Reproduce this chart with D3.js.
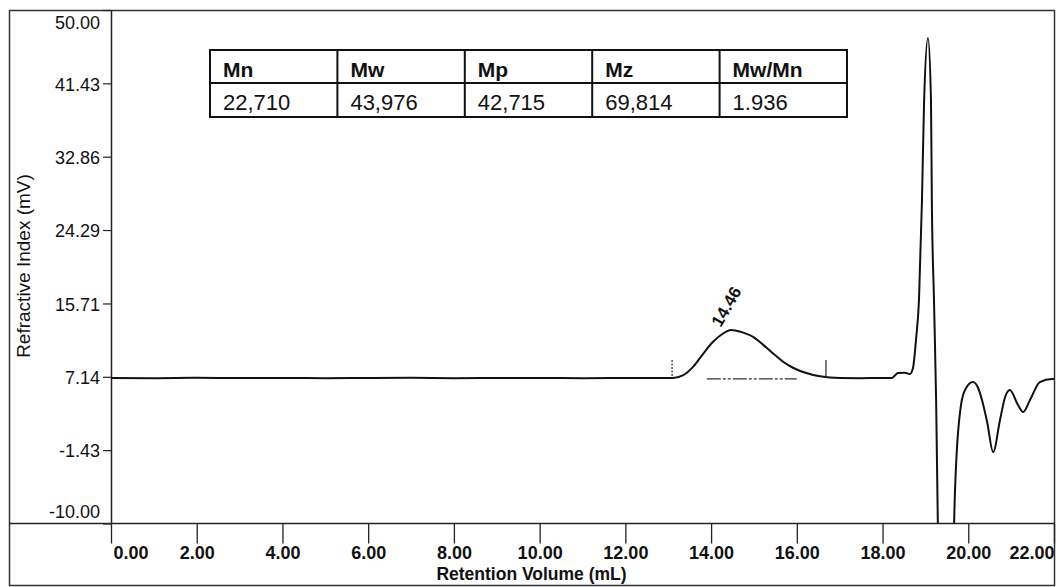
<!DOCTYPE html>
<html>
<head>
<meta charset="utf-8">
<script src="https://cdn.jsdelivr.net/npm/d3@7"></script>
<style>
  body { margin: 0; background: #fff; }
  svg { display: block; }
  text { font-family: "Liberation Sans", Arial, sans-serif; fill: #111; }
</style>
</head>
<body>
<svg id="chart" width="1059" height="587"></svg>
<script>
// Refractive-index trace of the GPC run: retention volume (mL) and detector signal (mV)
const retentionMl = [
  0, 1, 2, 3, 4, 5, 6, 7, 8, 9, 10, 11, 12, 12.6,
  13.11, 13.34, 13.58, 13.81, 14.04, 14.28, 14.46, 14.75, 14.98, 15.21, 15.44, 15.68, 15.91, 16.24, 16.54, 17.01,
  17.5, 18.0, 18.22, 18.36, 18.52, 18.64, 18.71, 18.78, 18.85, 18.92, 18.97, 19.06, 19.13, 19.15, 19.20, 19.25, 19.29, 19.33, 19.62, 19.67, 19.71,
  19.85, 19.95, 20.11, 20.23, 20.32, 20.44, 20.58, 20.74, 20.86, 20.97, 21.16, 21.28, 21.44, 21.67, 21.95, 22.00
];
const riSignal = [
  7.00, 6.98, 7.02, 6.99, 7.01, 6.97, 7.00, 7.02, 6.98, 7.00, 7.01, 6.98, 7.00, 7.01,
  7.00, 7.30, 8.30, 9.80, 11.20, 12.20, 12.61, 12.30, 11.80, 10.90, 9.90, 8.90, 8.20, 7.55, 7.20, 7.00,
  6.98, 7.00, 7.00, 7.59, 7.62, 7.47, 8.17, 11.44, 16.11, 27.80, 39.48, 46.73, 39.48, 27.80, 16.11, 4.43, -10.00, -30.00, -30.00, -10.00, -3.75,
  4.43, 5.83, 6.53, 5.83, 4.43, 1.86, -1.65, 2.09, 4.78, 5.59, 3.85, 3.03, 4.43, 6.53, 6.88, 6.88
];

// Polymer peak: apex, integration limits and drawn baseline
const peakApex = [14.46, 12.61];
const peakLimits = [13.09, 16.68];
const limitMarkTop = 9.1;
const peakBaseline = [13.90, 16.00];
const baselineLevel = 6.9;

// Axis ticks
const xTicks = [0, 2, 4, 6, 8, 10, 12, 14, 16, 18, 20, 22];
const yTicks = [-10.00, -1.43, 7.14, 15.71, 24.29, 32.86, 41.43, 50.00];

// Molecular weight averages
const statNames = ["Mn", "Mw", "Mp", "Mz", "Mw/Mn"];
const statValues = ["22,710", "43,976", "42,715", "69,814", "1.936"];

const svg = d3.select("#chart");
const frame = { left: 9, top: 10, right: 1054, bottom: 585 };
const plot = { left: 111, top: 10, right: 1054, bottom: 523.5 };

const x = d3.scaleLinear().domain([0, 22]).range([plot.left, plot.right]);
const y = d3.scaleLinear().domain([-10, 50]).range([plot.bottom, plot.top]);

// Outer frame
svg.append("rect")
  .attr("x", frame.left + 0.5).attr("y", frame.top + 0.5)
  .attr("width", frame.right - frame.left).attr("height", frame.bottom - frame.top)
  .attr("fill", "none").attr("stroke", "#333").attr("stroke-width", 1.5);

// Clip for the trace
svg.append("clipPath").attr("id", "plotClip")
  .append("rect")
  .attr("x", plot.left).attr("y", plot.top)
  .attr("width", plot.right - plot.left).attr("height", plot.bottom - plot.top);

// Y axis
const yAxis = svg.append("g")
  .attr("transform", `translate(${plot.left},0)`)
  .call(d3.axisLeft(y).tickValues(yTicks).tickSize(8).tickSizeOuter(0).tickPadding(3)
    .tickFormat(d => d.toFixed(2)));
yAxis.select(".domain").attr("stroke", "#222").attr("stroke-width", 1.5);
yAxis.selectAll(".tick line").attr("stroke", "#222").attr("stroke-width", 1.2);
yAxis.selectAll(".tick text")
  .attr("font-size", 18).attr("fill", "#111")
  .style("font-family", '"Liberation Sans", Arial, sans-serif')
  .attr("dy", "0.38em")
  .filter(d => d === 50).attr("dy", 0).attr("y", 18);
yAxis.selectAll(".tick text")
  .filter(d => d === -10).attr("dy", 0).attr("y", -6);

// X axis line across the frame
svg.append("line")
  .attr("x1", frame.left).attr("x2", frame.right)
  .attr("y1", plot.bottom).attr("y2", plot.bottom)
  .attr("stroke", "#222").attr("stroke-width", 1.5);

const xAxis = svg.append("g")
  .attr("transform", `translate(0,${plot.bottom})`)
  .call(d3.axisBottom(x).tickValues(xTicks).tickSize(20).tickSizeOuter(0)
    .tickFormat(d => d.toFixed(2)));
xAxis.select(".domain").remove();
xAxis.selectAll(".tick line").attr("stroke", "#222").attr("stroke-width", 1.3);
xAxis.selectAll(".tick text")
  .attr("font-size", 18).attr("font-weight", "bold").attr("fill", "#111")
  .style("font-family", '"Liberation Sans", Arial, sans-serif')
  .attr("y", 35).attr("dy", 0);
xAxis.selectAll(".tick text").filter(d => d === 0).attr("text-anchor", "start").attr("x", 2);
xAxis.selectAll(".tick text").filter(d => d === 22).attr("text-anchor", "end");

// Axis titles
svg.append("text")
  .attr("x", (frame.left + frame.right) / 2).attr("y", 580)
  .attr("text-anchor", "middle").attr("font-size", 17.5).attr("font-weight", "bold")
  .text("Retention Volume (mL)");

svg.append("text")
  .attr("transform", `translate(30,266) rotate(-90)`)
  .attr("text-anchor", "middle").attr("font-size", 19)
  .text("Refractive Index (mV)");

// Trace
const trace = retentionMl.map((v, i) => [v, riSignal[i]]);
svg.append("path")
  .datum(trace)
  .attr("clip-path", "url(#plotClip)")
  .attr("fill", "none").attr("stroke", "#111").attr("stroke-width", 2)
  .attr("stroke-linejoin", "round")
  .attr("d", d3.line().x(d => x(d[0])).y(d => y(d[1])).curve(d3.curveMonotoneX));

// Integration limit marks
svg.selectAll(".limit").data(peakLimits).join("line")
  .attr("class", "limit")
  .attr("x1", d => x(d)).attr("x2", d => x(d))
  .attr("y1", y(limitMarkTop)).attr("y2", y(baselineLevel + 0.1))
  .attr("stroke", "#222").attr("stroke-width", 1.2)
  .attr("stroke-dasharray", (d, i) => i === 0 ? "2,1.5" : null);

// Peak baseline
svg.append("line")
  .attr("x1", x(peakBaseline[0])).attr("x2", x(peakBaseline[1]))
  .attr("y1", y(baselineLevel)).attr("y2", y(baselineLevel))
  .attr("stroke", "#333").attr("stroke-width", 1.2)
  .attr("stroke-dasharray", "14,2,3,2,3,2");

// Apex label
svg.append("text")
  .attr("transform", `translate(${x(peakApex[0]) - 10},${y(peakApex[1]) - 2}) rotate(-60)`)
  .attr("font-size", 17).attr("font-weight", "bold")
  .text(peakApex[0].toFixed(2));

// Molecular weight table
const table = { left: 210, top: 50, colW: 127.4, rowH: [33, 34] };
const tg = svg.append("g");
const tableW = table.colW * statNames.length;
const tableH = table.rowH[0] + table.rowH[1];
tg.append("rect")
  .attr("x", table.left).attr("y", table.top)
  .attr("width", tableW).attr("height", tableH)
  .attr("fill", "#fff").attr("stroke", "#111").attr("stroke-width", 2);
tg.append("line")
  .attr("x1", table.left).attr("x2", table.left + tableW)
  .attr("y1", table.top + table.rowH[0]).attr("y2", table.top + table.rowH[0])
  .attr("stroke", "#111").attr("stroke-width", 2);
tg.selectAll(".col").data(statNames.slice(1)).join("line")
  .attr("x1", (d, i) => table.left + table.colW * (i + 1))
  .attr("x2", (d, i) => table.left + table.colW * (i + 1))
  .attr("y1", table.top).attr("y2", table.top + tableH)
  .attr("stroke", "#111").attr("stroke-width", 2);
tg.selectAll(".hdr").data(statNames).join("text")
  .attr("x", (d, i) => table.left + table.colW * i + 13)
  .attr("y", table.top + 27)
  .attr("font-size", 21).attr("font-weight", "bold")
  .text(d => d);
tg.selectAll(".val").data(statValues).join("text")
  .attr("x", (d, i) => table.left + table.colW * i + 13)
  .attr("y", table.top + table.rowH[0] + 27)
  .attr("font-size", 22)
  .text(d => d);
</script>
</body>
</html>
